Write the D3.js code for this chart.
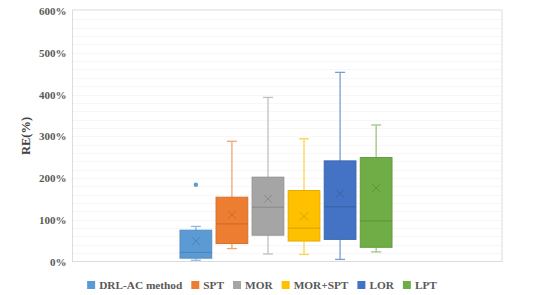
<!DOCTYPE html>
<html>
<head>
<meta charset="utf-8">
<script src="https://cdn.jsdelivr.net/npm/d3@7"></script>
<style>
  html, body { margin: 0; padding: 0; background: #fff; }
  svg { display: block; font-family: "Liberation Serif", "Times New Roman", serif; }
</style>
</head>
<body>
<svg id="chart" width="534" height="295"></svg>
<script>
// values in %
const series = ["DRL-AC method", "SPT", "MOR", "MOR+SPT", "LOR", "LPT"];
const colors = ["#5B9BD5", "#ED7D31", "#A5A5A5", "#FFC000", "#4472C4", "#70AD47"];
const whiskerLow = [3, 31, 18, 17, 5, 23];
const q1 = [8, 43, 63, 49, 53, 34];
const median = [22, 90, 130, 80, 131, 97];
const q3 = [75, 154, 202, 170, 241, 249];
const whiskerHigh = [84, 288, 393, 294, 453, 327];
const means = [49, 112, 150, 108, 163, 176];
const outliers = [[184], [], [], [], [], []];
const yTicks = [0, 100, 200, 300, 400, 500, 600];

const svg = d3.select("#chart");
const plot = { left: 72.5, right: 502, top: 11, bottom: 261.5 };

const y = d3.scaleLinear().domain([0, 600]).range([plot.bottom, plot.top]);
const x = d3.scaleBand().domain(series).range([180, 392]).paddingInner(0.12);

// faint minor grid
svg.append("g")
  .selectAll("line")
  .data(d3.range(20, 600, 20))
  .join("line")
  .attr("x1", plot.left).attr("x2", plot.right)
  .attr("y1", (d) => Math.round(y(d)) + 0.5)
  .attr("y2", (d) => Math.round(y(d)) + 0.5)
  .attr("stroke", "#f7f7f7");

// frame
svg.append("rect")
  .attr("x", plot.left).attr("y", plot.top - 1)
  .attr("width", plot.right - plot.left)
  .attr("height", plot.bottom - plot.top + 1)
  .attr("fill", "none")
  .attr("stroke", "#dcdcdc");

// y axis labels
const yAxis = svg.append("g")
  .attr("transform", `translate(${plot.left - 4},0)`)
  .call(d3.axisLeft(y).tickValues(yTicks).tickSize(0).tickPadding(2).tickFormat((d) => d + "%"));
yAxis.select(".domain").remove();
yAxis.selectAll("text")
  .attr("fill", "#595959")
  .style("font-family", "'Liberation Serif', serif")
  .style("font-weight", "bold")
  .style("font-size", "11px");

svg.append("text")
  .attr("transform", "translate(30,136) rotate(-90)")
  .attr("text-anchor", "middle")
  .attr("fill", "#404040")
  .style("font-weight", "bold")
  .style("font-size", "12.5px")
  .text("RE(%)");

// boxes
const boxes = svg.append("g")
  .selectAll("g")
  .data(series.map((name, i) => ({
    name, i, color: colors[i],
    lo: whiskerLow[i], q1: q1[i], med: median[i], q3: q3[i],
    hi: whiskerHigh[i], mean: means[i], out: outliers[i]
  })))
  .join("g");

boxes.each(function (d) {
  const g = d3.select(this);
  const bx = x(d.name);
  const bw = x.bandwidth();
  const cx = bx + bw / 2;
  const light = d3.interpolateRgb(d.color, "#ffffff")(0.3);
  const dark = d3.color(d.color).darker(0.3);
  const darker = d3.color(d.color).darker(0.5);

  // whiskers
  g.append("line")
    .attr("x1", cx).attr("x2", cx)
    .attr("y1", y(d.hi)).attr("y2", y(d.q3))
    .attr("stroke", light).attr("stroke-width", 1.3);
  g.append("line")
    .attr("x1", cx).attr("x2", cx)
    .attr("y1", y(d.q1)).attr("y2", y(d.lo))
    .attr("stroke", light).attr("stroke-width", 1.3);
  [d.hi, d.lo].forEach((v) => {
    g.append("line")
      .attr("x1", cx - 5).attr("x2", cx + 5)
      .attr("y1", y(v)).attr("y2", y(v))
      .attr("stroke", light).attr("stroke-width", 1.3);
  });

  g.append("rect")
    .attr("x", bx).attr("y", y(d.q3))
    .attr("width", bw).attr("height", y(d.q1) - y(d.q3))
    .attr("fill", d.color)
    .attr("stroke", dark).attr("stroke-width", 1);

  g.append("line")
    .attr("x1", bx).attr("x2", bx + bw)
    .attr("y1", y(d.med)).attr("y2", y(d.med))
    .attr("stroke", darker).attr("stroke-width", 1);

  // mean marker
  const m = 4;
  const my = y(d.mean);
  g.append("path")
    .attr("d", `M${cx - m},${my - m}L${cx + m},${my + m}M${cx - m},${my + m}L${cx + m},${my - m}`)
    .attr("stroke", darker).attr("stroke-width", 1).attr("fill", "none");

  d.out.forEach((v) => {
    g.append("circle")
      .attr("cx", cx).attr("cy", y(v)).attr("r", 2.2)
      .attr("fill", d.color);
  });
});

// legend
const legend = svg.append("g");
let lx = 0;
series.forEach((name, i) => {
  const item = legend.append("g").attr("transform", `translate(${lx},0)`);
  item.append("rect")
    .attr("x", 0).attr("y", 281).attr("width", 8).attr("height", 8)
    .attr("fill", colors[i]);
  const t = item.append("text")
    .attr("x", 12).attr("y", 289)
    .attr("fill", "#595959")
    .style("font-weight", "bold")
    .style("font-size", "11.3px")
    .text(name);
  lx += 12 + t.node().getComputedTextLength() + 9;
});
const legendWidth = lx - 9;
legend.attr("transform", `translate(${(91 + 433) / 2 - legendWidth / 2},0)`);
</script>
</body>
</html>
